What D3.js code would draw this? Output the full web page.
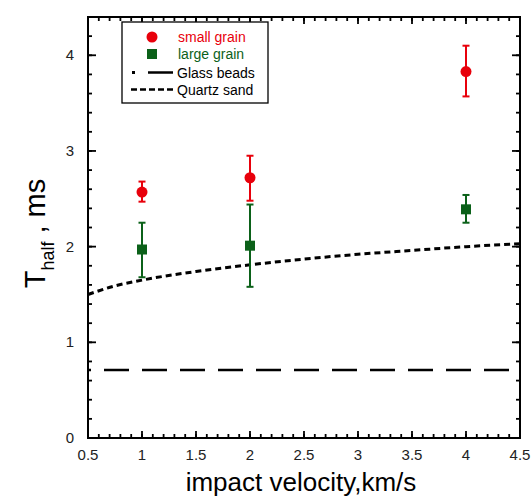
<!DOCTYPE html>
<html>
<head>
<meta charset="utf-8">
<script src="https://cdn.jsdelivr.net/npm/d3@7"></script>
<style>
  body { margin: 0; background: #fff; }
  text { font-family: "Liberation Sans", "DejaVu Sans", sans-serif; }
</style>
</head>
<body>
<div id="chart"></div>
<script>
// data
var velocity = [1, 2, 4];
var smallMean = [2.57, 2.72, 3.83];
var smallLow = [2.47, 2.48, 3.57];
var smallHigh = [2.68, 2.95, 4.10];
var largeMean = [1.97, 2.01, 2.39];
var largeLow = [1.68, 1.58, 2.25];
var largeHigh = [2.25, 2.44, 2.54];
var glassLevel = 0.71;
var quartzV = [0.5, 0.75, 1, 1.5, 2, 2.5, 3, 3.5, 4, 4.5];
var quartzT = [1.50, 1.59, 1.65, 1.74, 1.81, 1.87, 1.92, 1.96, 2.00, 2.03];
var xTicks = [0.5, 1, 1.5, 2, 2.5, 3, 3.5, 4, 4.5];
var yTicks = [0, 1, 2, 3, 4];

var margin = {top: 17, right: 11, bottom: 60, left: 88},
    width = 531 - margin.left - margin.right,
    height = 498 - margin.top - margin.bottom;

var x = d3.scaleLinear().domain([0.5, 4.5]).range([0, width]);
var y = d3.scaleLinear().domain([0, 4.4]).range([height, 0]);

var svg = d3.select("#chart").append("svg")
    .attr("width", 531)
    .attr("height", 498)
  .append("g")
    .attr("transform", "translate(" + margin.left + "," + margin.top + ")");

// minor and major ticks, pointing inward on all four sides
var xMinor = d3.range(5, 46).map(function(d) { return d / 10; });
var yMinor = d3.range(0, 23).map(function(d) { return d / 5; });

var ticks = svg.append("g").attr("stroke", "#000").attr("stroke-width", 1.8);

function xTickMarks(vals, len) {
  vals.forEach(function(v) {
    ticks.append("line").attr("x1", x(v)).attr("x2", x(v))
        .attr("y1", height).attr("y2", height - len);
    ticks.append("line").attr("x1", x(v)).attr("x2", x(v))
        .attr("y1", 0).attr("y2", len);
  });
}
function yTickMarks(vals, len) {
  vals.forEach(function(v) {
    ticks.append("line").attr("y1", y(v)).attr("y2", y(v))
        .attr("x1", 0).attr("x2", len);
    ticks.append("line").attr("y1", y(v)).attr("y2", y(v))
        .attr("x1", width).attr("x2", width - len);
  });
}
xTickMarks(xMinor, 4);
xTickMarks(xTicks, 7);
yTickMarks(yMinor, 4);
yTickMarks(yTicks, 8);

// frame
svg.append("rect")
    .attr("width", width).attr("height", height)
    .attr("fill", "none").attr("stroke", "#000").attr("stroke-width", 2);

// tick labels
svg.selectAll(".xlab").data(xTicks).enter().append("text")
    .attr("x", function(d) { return x(d); })
    .attr("y", height + 22)
    .attr("text-anchor", "middle")
    .attr("font-size", 15).attr("fill", "#222")
    .text(function(d) { return d; });

svg.selectAll(".ylab").data(yTicks).enter().append("text")
    .attr("x", -14)
    .attr("y", function(d) { return y(d) + 5; })
    .attr("text-anchor", "end")
    .attr("font-size", 15).attr("fill", "#222")
    .text(function(d) { return d; });

// axis titles
svg.append("text")
    .attr("x", width / 2 - 3)
    .attr("y", height + 53)
    .attr("text-anchor", "middle")
    .attr("font-size", 26)
    .text("impact velocity,km/s");

var yt = svg.append("text")
    .attr("transform", "translate(-43," + (height / 2 + 6) + ") rotate(-90)")
    .attr("text-anchor", "middle")
    .attr("font-size", 29);
yt.append("tspan").text("T");
yt.append("tspan").attr("font-size", 18).attr("dy", 9).text("half");
yt.append("tspan").attr("dy", -9).text(" , ms");

// glass beads
svg.append("line")
    .attr("x1", x(0.5)).attr("x2", x(4.5))
    .attr("y1", y(glassLevel)).attr("y2", y(glassLevel))
    .attr("stroke", "#000").attr("stroke-width", 2.5)
    .attr("stroke-dasharray", "25,13")
    .attr("stroke-dashoffset", 22);

// quartz sand
var quartz = quartzV.map(function(v, i) { return {v: v, t: quartzT[i]}; });
svg.append("path")
    .datum(quartz)
    .attr("fill", "none")
    .attr("stroke", "#000").attr("stroke-width", 3)
    .attr("stroke-dasharray", "6,4")
    .attr("d", d3.line().curve(d3.curveMonotoneX)
        .x(function(d) { return x(d.v); })
        .y(function(d) { return y(d.t); }));

// error bars
function errorBars(mean, low, high, color) {
  var g = svg.append("g");
  velocity.forEach(function(v, i) {
    g.append("line")
        .attr("x1", x(v)).attr("x2", x(v))
        .attr("y1", y(low[i])).attr("y2", y(high[i]))
        .attr("stroke", color).attr("stroke-width", 2);
    [low[i], high[i]].forEach(function(e) {
      g.append("line")
          .attr("x1", x(v) - 3.5).attr("x2", x(v) + 3.5)
          .attr("y1", y(e)).attr("y2", y(e))
          .attr("stroke", color).attr("stroke-width", 2);
    });
  });
  return g;
}

var red = "#e8000b", green = "#0b6119";

errorBars(smallMean, smallLow, smallHigh, red)
  .selectAll("circle").data(smallMean).enter().append("circle")
    .attr("cx", function(d, i) { return x(velocity[i]); })
    .attr("cy", function(d) { return y(d); })
    .attr("r", 5.5)
    .attr("fill", red);

errorBars(largeMean, largeLow, largeHigh, green)
  .selectAll("rect").data(largeMean).enter().append("rect")
    .attr("x", function(d, i) { return x(velocity[i]) - 5; })
    .attr("y", function(d) { return y(d) - 5; })
    .attr("width", 10).attr("height", 10)
    .attr("fill", green);

// legend
var lg = svg.append("g").attr("transform", "translate(34,5)");
lg.append("rect")
    .attr("width", 146).attr("height", 81)
    .attr("fill", "#fff").attr("stroke", "#000").attr("stroke-width", 1.3);
lg.append("circle").attr("cx", 30).attr("cy", 15).attr("r", 5.5).attr("fill", red);
lg.append("text").attr("x", 56).attr("y", 20).attr("font-size", 14).attr("fill", red).text("small grain");
lg.append("rect").attr("x", 25).attr("y", 27).attr("width", 10).attr("height", 10).attr("fill", green);
lg.append("text").attr("x", 56).attr("y", 37).attr("font-size", 14).attr("fill", green).text("large grain");
lg.append("rect").attr("x", 10).attr("y", 49).attr("width", 3).attr("height", 3).attr("fill", "#000");
lg.append("line").attr("x1", 26).attr("x2", 51).attr("y1", 50.5).attr("y2", 50.5)
    .attr("stroke", "#000").attr("stroke-width", 2.5);
lg.append("text").attr("x", 55).attr("y", 56).attr("font-size", 14).text("Glass beads");
lg.append("line").attr("x1", 9).attr("x2", 51).attr("y1", 67.5).attr("y2", 67.5)
    .attr("stroke", "#000").attr("stroke-width", 2.5).attr("stroke-dasharray", "6,3");
lg.append("text").attr("x", 55).attr("y", 73).attr("font-size", 14).text("Quartz sand");
</script>
</body>
</html>
